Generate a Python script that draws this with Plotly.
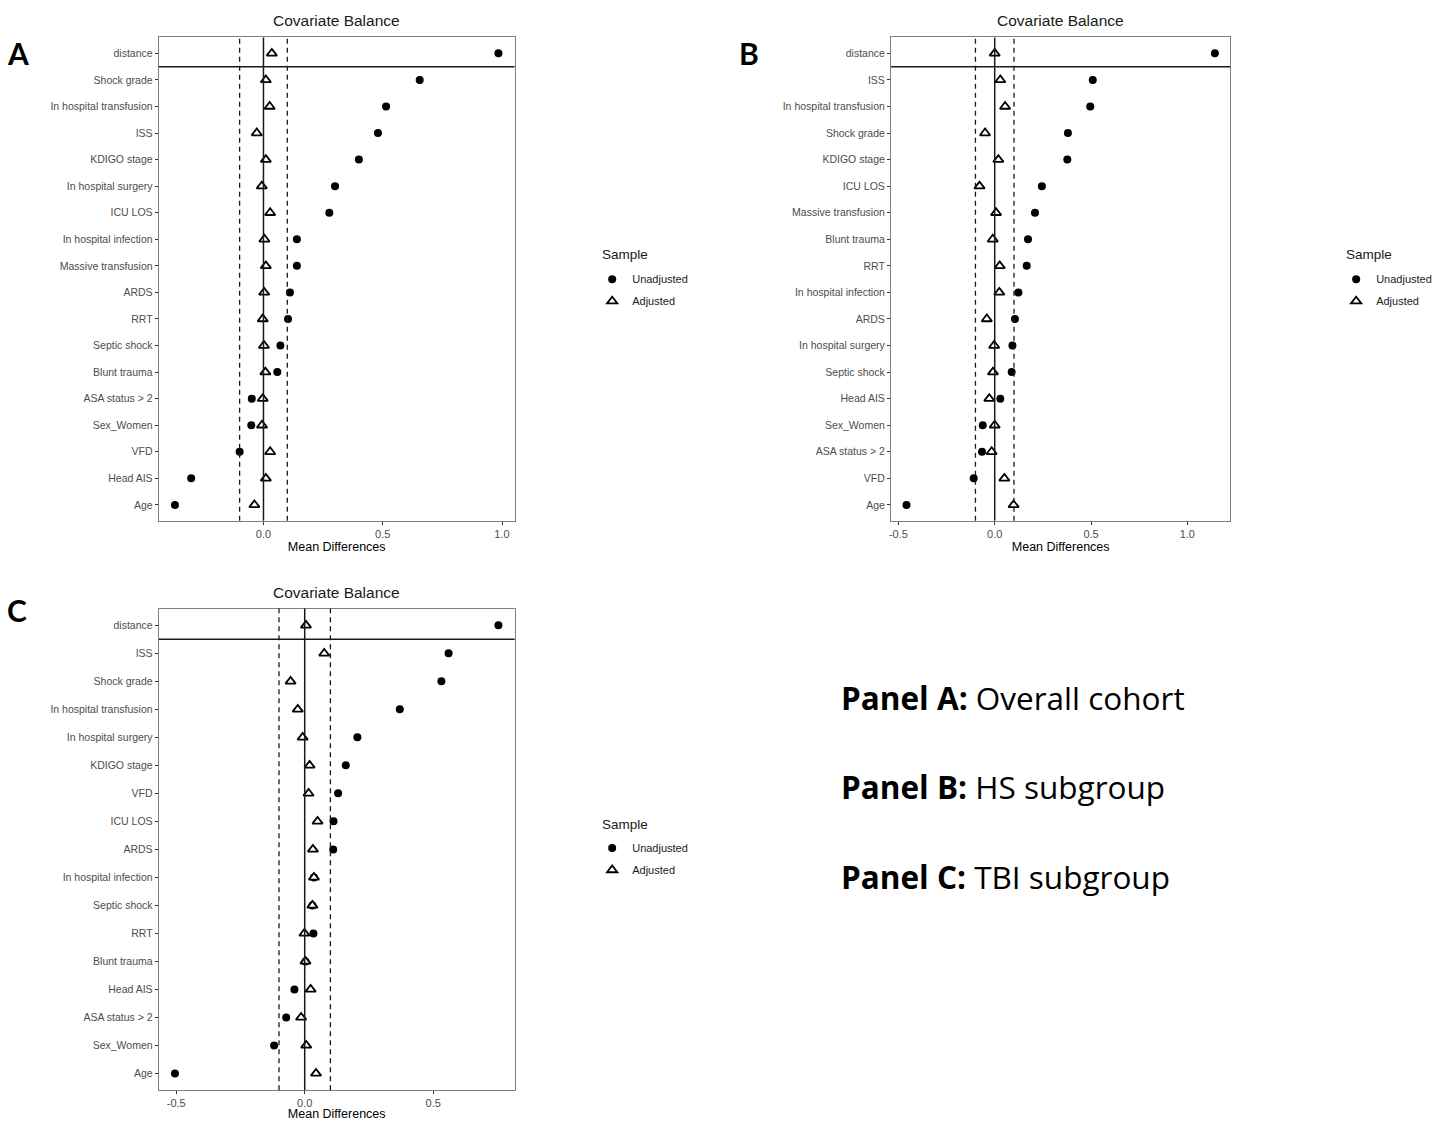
import plotly.graph_objects as go

# ---------------- data ----------------
labels_A = ["distance", "Shock grade", "In hospital transfusion", "ISS", "KDIGO stage",
            "In hospital surgery", "ICU LOS", "In hospital infection", "Massive transfusion",
            "ARDS", "RRT", "Septic shock", "Blunt trauma", "ASA status > 2", "Sex_Women",
            "VFD", "Head AIS", "Age"]
unadj_A = [0.985, 0.655, 0.514, 0.480, 0.400, 0.300, 0.276, 0.140, 0.140,
           0.111, 0.103, 0.071, 0.058, -0.049, -0.051, -0.100, -0.303, -0.371]
adj_A = [0.035, 0.010, 0.026, -0.028, 0.010, -0.007, 0.028, 0.004, 0.010,
         0.003, -0.003, 0.002, 0.008, -0.003, -0.006, 0.028, 0.010, -0.038]

labels_B = ["distance", "ISS", "In hospital transfusion", "Shock grade", "KDIGO stage",
            "ICU LOS", "Massive transfusion", "Blunt trauma", "RRT", "In hospital infection",
            "ARDS", "In hospital surgery", "Septic shock", "Head AIS", "Sex_Women",
            "ASA status > 2", "VFD", "Age"]
unadj_B = [1.143, 0.509, 0.496, 0.380, 0.377, 0.245, 0.209, 0.173, 0.166, 0.123,
           0.105, 0.092, 0.088, 0.029, -0.062, -0.066, -0.109, -0.458]
adj_B = [0.000, 0.029, 0.054, -0.050, 0.019, -0.079, 0.007, -0.010, 0.026, 0.024,
         -0.041, -0.003, -0.009, -0.028, 0.000, -0.016, 0.050, 0.098]

labels_C = ["distance", "ISS", "Shock grade", "In hospital transfusion", "In hospital surgery",
            "KDIGO stage", "VFD", "ICU LOS", "ARDS", "In hospital infection", "Septic shock",
            "RRT", "Blunt trauma", "Head AIS", "ASA status > 2", "Sex_Women", "Age"]
unadj_C = [0.754, 0.560, 0.532, 0.370, 0.205, 0.160, 0.130, 0.112, 0.111, 0.036,
           0.030, 0.034, 0.003, -0.040, -0.072, -0.119, -0.505]
adj_C = [0.005, 0.076, -0.055, -0.027, -0.008, 0.019, 0.015, 0.050, 0.032, 0.036,
         0.030, -0.001, 0.003, 0.023, -0.014, 0.006, 0.044]

ticks_A = [0.0, 0.5, 1.0]
ticks_B = [-0.5, 0.0, 0.5, 1.0]
ticks_C = [-0.5, 0.0, 0.5]
threshold = 0.1

panel_letters = ["A", "B", "C"]
notes_bold = ["Panel A:", "Panel B:", "Panel C:"]
notes_text = ["Overall cohort", "HS subgroup", "TBI subgroup"]
legend_title = "Sample"

# ---------------- layout geometry ----------------
WIN_W, WIN_H = 1450, 1129
OFF = 8                      # default page body margin
W, H = WIN_W - 2 * OFF, WIN_H - 2 * OFF
FONT = "Liberation Sans, Arial, sans-serif"
NOTE_FONT = "Open Sans, Lato, sans-serif"


def px_x(v):
    return (v - OFF) / W


def px_y(v):
    return 1 - (v - OFF) / H


panels = [
    dict(labels=labels_A, unadj=unadj_A, adj=adj_A, ticks=ticks_A,
         x0=157, x1=513.3, y0=37.7, y1=525.5, legend_xy=(591, 267), title_xy=(601, 257)),
    dict(labels=labels_B, unadj=unadj_B, adj=adj_B, ticks=ticks_B,
         x0=890.3, x1=1230, y0=37.7, y1=525.5, legend_xy=(1336, 267), title_xy=(1346, 257)),
    dict(labels=labels_C, unadj=unadj_C, adj=adj_C, ticks=ticks_C,
         x0=157, x1=513.3, y0=614, y1=1100, legend_xy=(591, 841), title_xy=(601, 832)),
]

fig = go.Figure()
layout_upd = {}
shapes = []
annotations = []

for i, p in enumerate(panels):
    n = i + 1
    xa = "x" if n == 1 else f"x{n}"
    ya = "y" if n == 1 else f"y{n}"
    lg = "legend" if n == 1 else f"legend{n}"
    cats_bottom_up = list(reversed(p["labels"]))

    fig.add_trace(go.Scatter(
        x=p["unadj"], y=p["labels"], mode="markers", name="Unadjusted",
        xaxis=xa, yaxis=ya, legend=lg, legendgroup=f"u{n}",
        marker=dict(symbol="circle", size=8, color="black", line=dict(width=0)),
        hoverinfo="skip"))
    fig.add_trace(go.Scatter(
        x=p["adj"], y=p["labels"], mode="markers", name="Adjusted",
        xaxis=xa, yaxis=ya, legend=lg, legendgroup=f"a{n}",
        marker=dict(symbol="triangle-up", size=9, color="white",
                    line=dict(width=1.8, color="black")),
        hoverinfo="skip"))

    allv = p["unadj"] + p["adj"]
    lo, hi = min(allv), max(allv)
    pad = 0.05 * (hi - lo)
    xr = [lo - pad, hi + pad]

    xkey = "xaxis" if n == 1 else f"xaxis{n}"
    ykey = "yaxis" if n == 1 else f"yaxis{n}"
    layout_upd[xkey] = dict(
        domain=[px_x(p["x0"]), px_x(p["x1"])], anchor=ya, range=xr,
        tickvals=p["ticks"], ticktext=[f"{t:.1f}" for t in p["ticks"]],
        showgrid=False, zeroline=False, showline=True, linecolor="#7f7f7f", linewidth=1.2,
        mirror=True, ticks="outside", ticklen=3, tickcolor="#333333", tickwidth=1,
        tickfont=dict(family=FONT, size=11, color="#4d4d4d"),
        title=dict(text="Mean Differences", font=dict(family=FONT, size=12.5, color="black"),
                   standoff=3))
    layout_upd[ykey] = dict(
        domain=[px_y(p["y1"]), px_y(p["y0"])], anchor=xa, type="category",
        categoryorder="array", categoryarray=cats_bottom_up,
        range=[-0.6, len(cats_bottom_up) - 0.4],
        showgrid=False, zeroline=False, showline=True, linecolor="#7f7f7f", linewidth=1.2,
        mirror=True, ticks="outside", ticklen=3, tickcolor="#333333", tickwidth=1,
        tickfont=dict(family=FONT, size=10.5, color="#4d4d4d"))

    # reference lines
    shapes.append(dict(type="line", xref=xa, yref=f"{ya} domain", x0=0, x1=0, y0=0, y1=1,
                       line=dict(color="#1a1a1a", width=1.5)))
    for t in (-threshold, threshold):
        shapes.append(dict(type="line", xref=xa, yref=f"{ya} domain", x0=t, x1=t, y0=0, y1=1,
                           line=dict(color="#1a1a1a", width=1.3, dash="5px,4px")))
    # separator between distance facet and covariates
    sep = len(cats_bottom_up) - 1.5
    shapes.append(dict(type="line", xref=f"{xa} domain", yref=ya, x0=0, x1=1, y0=sep, y1=sep,
                       line=dict(color="#1a1a1a", width=1.5)))

    # title
    annotations.append(dict(text="Covariate Balance", xref="paper", yref="paper",
                            x=px_x((p["x0"] + p["x1"]) / 2), y=px_y(p["y0"] - 6),
                            xanchor="center", yanchor="bottom", showarrow=False,
                            font=dict(family=FONT, size=15.5, color="#1a1a1a")))

    # legend title and legend
    tx, ty = p["title_xy"]
    annotations.append(dict(text=legend_title, xref="paper", yref="paper",
                            x=px_x(tx), y=px_y(ty), xanchor="left", yanchor="middle",
                            showarrow=False, xshift=-2,
                            font=dict(family=FONT, size=13.5, color="#1a1a1a")))
    lx, ly = p["legend_xy"]
    layout_upd[lg] = dict(
        x=px_x(lx), y=px_y(ly), xanchor="left", yanchor="top", bgcolor="rgba(0,0,0,0)",
        font=dict(family=FONT, size=11, color="#1a1a1a"), itemsizing="trace",
        tracegroupgap=3)

# panel letters
letter_pos = [(8, 53), (741, 53), (8, 615)]
for letter, (lx, ly) in zip(panel_letters, letter_pos):
    annotations.append(dict(text=f"<b>{letter}</b>", xref="paper", yref="paper",
                            x=px_x(lx), y=px_y(ly), xanchor="left", yanchor="middle",
                            xshift=-5, showarrow=False,
                            font=dict(family="Lato, Open Sans, sans-serif",
                                      size=30, color="black")))

# notes
note_y = [704, 794, 884]
for b, t, yy in zip(notes_bold, notes_text, note_y):
    annotations.append(dict(text=f"<b>{b}</b> {t}", xref="paper", yref="paper",
                            x=px_x(838), y=px_y(yy), xanchor="left", yanchor="middle",
                            showarrow=False, font=dict(family=NOTE_FONT, size=31.5,
                                                       color="black")))

fig.update_layout(
    width=W, height=H, margin=dict(l=0, r=0, t=0, b=0),
    paper_bgcolor="white", plot_bgcolor="white",
    shapes=shapes, annotations=annotations, **layout_upd)

fig.write_html("out.html")
